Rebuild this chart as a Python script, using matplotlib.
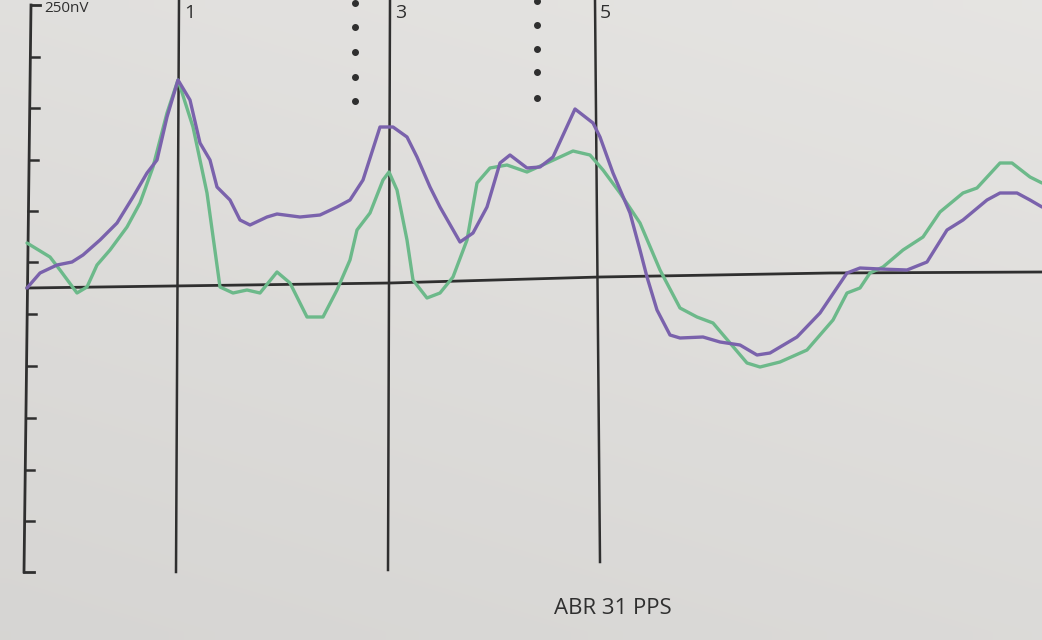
import numpy as np
import matplotlib.pyplot as plt

# Trazas ABR (x = posicion horizontal, y = posicion vertical en la pagina)
purple_x = [27, 40, 57, 72, 83, 100, 117, 133, 147, 157, 167, 178, 190, 200, 210, 217, 230, 240, 250,
            267, 277, 300, 320, 337, 350, 363, 380, 393, 407, 417, 430, 440, 460, 473, 487, 500, 510,
            527, 540, 553, 575, 593, 600, 613, 630, 640, 647, 657, 670, 680, 703, 720, 740, 757, 770,
            797, 820, 847, 860, 880, 907, 927, 947, 963, 987, 1000, 1017, 1030, 1042]
purple_y = [288, 273, 265, 262, 255, 240, 223, 197, 173, 160, 117, 80, 100, 143, 160, 187, 200, 220, 225,
            217, 214, 217, 215, 207, 200, 180, 127, 127, 137, 157, 187, 207, 242, 233, 207, 163, 155,
            168, 167, 157, 109, 123, 137, 173, 213, 250, 277, 310, 335, 338, 337, 342, 345, 355, 353,
            337, 313, 273, 268, 269, 270, 262, 230, 220, 200, 193, 193, 200, 207]

green_x = [27, 50, 60, 77, 87, 97, 110, 127, 140, 153, 167, 178, 193, 207, 220, 233, 247, 260, 277,
           290, 307, 323, 337, 350, 357, 370, 383, 389, 397, 407, 413, 427, 440, 453, 467, 477, 490,
           507, 527, 547, 573, 590, 603, 620, 640, 660, 680, 697, 713, 730, 747, 760, 780, 807, 833,
           847, 860, 870, 883, 903, 923, 940, 963, 977, 1000, 1012, 1030, 1042]
green_y = [243, 257, 270, 293, 287, 265, 250, 227, 203, 167, 113, 80, 127, 193, 287, 293, 290, 293, 272,
           283, 317, 317, 290, 260, 230, 213, 180, 172, 190, 240, 280, 298, 293, 277, 240, 183, 168,
           165, 172, 163, 151, 155, 170, 193, 223, 270, 308, 317, 323, 343, 363, 367, 362, 350, 320,
           293, 288, 273, 267, 250, 237, 212, 193, 188, 163, 163, 177, 183]

# Linea de base (ligeramente curvada por la foto)
base_x = [27, 390, 600, 830, 1042]
base_y = [288, 283, 277, 273, 272]

# Eje vertical y marcas
axis_top = (31, 5)
axis_bottom = (24, 572)
tick_y = [57, 108, 160, 211, 262, 314, 366, 418, 470, 521]

# Picos marcados
peak_labels = ['1', '3', '5']
peak_top_x = [179, 390, 595]
peak_bottom_x = [176, 388, 600]
peak_bottom_y = [572, 570, 562]

dots_x = [355, 537]
dots_y = [[3, 27, 52, 77, 101], [1, 25, 49, 72, 98]]

ink = '#2f2f2f'
bg = '#dcdad6'

fig = plt.figure(figsize=(10.42, 6.4), dpi=100, facecolor=bg)
ax = fig.add_axes([0, 0, 1, 1])
ax.set_xlim(0, 1042)
ax.set_ylim(640, 0)
ax.axis('off')

# fondo de papel con un leve degradado (foto)
gx, gy = np.meshgrid(np.linspace(0, 1, 64), np.linspace(0, 1, 40))
shade = 0.90 - 0.04 * gy - 0.02 * (1 - gx)
ax.imshow(np.dstack([shade, shade * 0.995, shade * 0.985]), extent=[0, 1042, 640, 0],
          aspect='auto', zorder=0, interpolation='bilinear')

# eje vertical
ax.plot([axis_top[0], axis_bottom[0]], [axis_top[1], axis_bottom[1]], color=ink, lw=2)
ax.plot([axis_top[0], axis_top[0] + 9], [axis_top[1], axis_top[1]], color=ink, lw=2)
ax.plot([axis_bottom[0], axis_bottom[0] + 10], [axis_bottom[1], axis_bottom[1]], color=ink, lw=2)
for ty in tick_y:
    tx = axis_top[0] + (axis_bottom[0] - axis_top[0]) * (ty - axis_top[1]) / (axis_bottom[1] - axis_top[1])
    ax.plot([tx, tx + 9], [ty, ty], color=ink, lw=1.8)

ax.text(44, 1, '250nV', fontsize=11, color=ink, family='Open Sans', ha='left', va='top')

# linea de base
ax.plot(base_x, base_y, color=ink, lw=2)

# lineas verticales de los picos
for lab, xt, xb, yb in zip(peak_labels, peak_top_x, peak_bottom_x, peak_bottom_y):
    ax.plot([xt, xb], [0, yb], color=ink, lw=1.8)
    ax.text(xt + 5, 4, lab, fontsize=14, color=ink, family='Open Sans', ha='left', va='top')

for dx, dys in zip(dots_x, dots_y):
    ax.plot([dx] * len(dys), dys, 'o', color=ink, ms=4)

# trazas
ax.plot(green_x, green_y, color='#6cb98a', lw=2.4, solid_joinstyle='round', solid_capstyle='round')
ax.plot(purple_x, purple_y, color='#7a62ac', lw=2.4, solid_joinstyle='round', solid_capstyle='round')

ax.text(613, 608, 'ABR 31 PPS', fontsize=16, color=ink, family='Open Sans', ha='center', va='center')

fig.savefig('out.png', dpi=100, facecolor=bg)
